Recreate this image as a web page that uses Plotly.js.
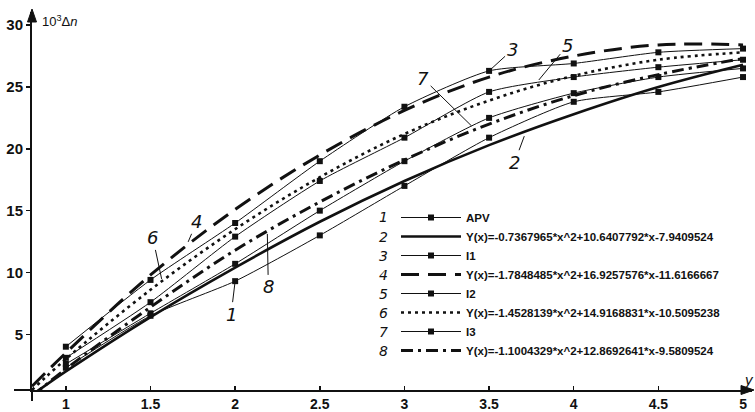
<!DOCTYPE html>
<html><head><meta charset="utf-8">
<script src="https://cdn.plot.ly/plotly-3.0.1.min.js"></script>
<style>html,body{margin:0;padding:0;background:#fff}</style>
</head><body><div id="chart" style="width:755px;height:412px"></div>
<script>
// ---- data ----
const xData = [1, 1.5, 2, 2.5, 3, 3.5, 4, 4.5, 5];
const apv = [2.3, 6.5, 9.3, 13.0, 17.0, 20.9, 23.8, 24.6, 25.8];
const i1  = [4.0, 9.4, 14.0, 19.0, 23.4, 26.3, 26.9, 27.8, 28.1];
const i2  = [3.1, 7.6, 12.9, 17.4, 20.9, 24.6, 25.8, 26.6, 27.2];
const i3  = [2.6, 6.7, 10.7, 15.0, 19.0, 22.5, 24.5, 25.8, 26.5];

const xFit   = [0.8, 1, 1.5, 2, 2.5, 3, 3.5, 4, 4.5, 5];
const fitApv = [0.1, 2.0, 6.4, 10.4, 14.1, 17.4, 20.3, 22.8, 25.0, 26.8];
const fitI1  = [0.8, 3.5, 9.8, 15.1, 19.5, 23.1, 25.8, 27.5, 28.4, 28.4];
const fitI2  = [0.5, 3.0, 8.6, 13.5, 17.7, 21.2, 23.9, 25.9, 27.2, 27.8];
const fitI3  = [0.0, 2.2, 7.2, 11.8, 15.7, 19.1, 22.0, 24.3, 26.0, 27.3];

const seriesNames = [
  "APV",
  "Y(x)=-0.7367965*x^2+10.6407792*x-7.9409524",
  "I1",
  "Y(x)=-1.7848485*x^2+16.9257576*x-11.6166667",
  "I2",
  "Y(x)=-1.4528139*x^2+14.9168831*x-10.5095238",
  "I3",
  "Y(x)=-1.1004329*x^2+12.8692641*x-9.5809524"
];
const curveNumbers = ["1","2","3","4","5","6","7","8"];
const xTicks = [1, 1.5, 2, 2.5, 3, 3.5, 4, 4.5, 5];
const xTickText = ["1", "1.5", "2", "2.5", "3", "3.5", "4", "4.5", "5"];
const yTicks = [5, 10, 15, 20, 25, 30];
const yTickText = ["5", "10", "15", "20", "25", "30"];

// ---- traces ----
const ink = "#111";
function dataTrace(y, name) {
  return {x: xData, y: y, name: name, type: "scatter", mode: "lines+markers",
    line: {color: ink, width: 1, shape: "spline", smoothing: 0.6},
    marker: {symbol: "square", size: 6, color: ink}};
}
function fitTrace(y, name, width, dash) {
  return {x: xFit, y: y, name: name, type: "scatter", mode: "lines",
    line: {color: ink, width: width, dash: dash, shape: "spline", smoothing: 1}};
}
const traces = [
  dataTrace(apv, seriesNames[0]),
  fitTrace(fitApv, seriesNames[1], 2.6, "solid"),
  dataTrace(i1, seriesNames[2]),
  fitTrace(fitI1, seriesNames[3], 3, "18px,9px"),
  dataTrace(i2, seriesNames[4]),
  fitTrace(fitI2, seriesNames[5], 2.6, "3px,4px"),
  dataTrace(i3, seriesNames[6]),
  fitTrace(fitI3, seriesNames[7], 3, "12px,5px,3px,5px")
];

// ---- layout ----
const W = 755, H = 412;
const M = {l: 32, r: 3, t: 12, b: 22};
const plotW = W - M.l - M.r, plotH = H - M.t - M.b;
const xRange = [0.8, 5.053];
const yRange = [0.5, 31.06];
const px2paperX = p => (p - M.l) / plotW;
const py2paperY = p => 1 - (p - M.t) / plotH;

const legTopPx = 203;
const legLeftPx = 396;
const rowH = 19;

const numFont = {family: "DejaVu Sans", size: 18, color: ink, style: "italic"};
// labels pointing at curves: [x, y, ax, ay]
const callouts = [
  [2.0, 9.3, -4, 33],
  [3.71, 21.1, -10, 27],
  [3.5, 26.3, 23, -21],
  [1.72, 12.4, 9, -21],
  [3.79, 25.5, 29, -35],
  [1.567, 9.4, -9, -42],
  [3.40, 21.8, -49, -48],
  [2.19, 13.2, 1, 54]
];
const annotations = callouts.map((c, i) => ({
  x: c[0], y: c[1], xref: "x", yref: "y", ax: c[2], ay: c[3],
  text: curveNumbers[i], showarrow: true, arrowhead: 0, arrowwidth: 1,
  arrowcolor: ink, standoff: 1, font: numFont
}));
// numbers in front of the legend rows
curveNumbers.forEach((n, i) => {
  annotations.push({xref: "paper", yref: "paper", x: px2paperX(legLeftPx - 6),
    y: py2paperY(legTopPx + 14.5 + rowH * i), xanchor: "right", yanchor: "middle",
    text: n, showarrow: false, font: {family: "DejaVu Sans", size: 14, color: ink, style: "italic"}});
});
// axis titles
annotations.push({xref: "paper", yref: "paper", x: px2paperX(40), y: py2paperY(21),
  xanchor: "left", yanchor: "middle", showarrow: false,
  text: "10<sup>3</sup>Δ<i>n</i>", font: {family: "Liberation Sans, Arial", size: 13, color: ink}});
annotations.push({xref: "paper", yref: "paper", x: px2paperX(749), y: py2paperY(379),
  xanchor: "center", yanchor: "middle", showarrow: false,
  text: "<i>y</i>", font: {family: "Liberation Sans, Arial", size: 15, color: ink}});

// axis arrowheads (decoration, in paper coordinates)
const X = px2paperX, Y = py2paperY;
const upArrow = `M ${X(32)} ${Y(9)} L ${X(27.5)} ${Y(22)} L ${X(36.5)} ${Y(22)} Z`;
const rightArrow = `M ${X(754)} ${Y(390)} L ${X(741)} ${Y(385.5)} L ${X(741)} ${Y(394.5)} Z`;

const tickFont = {family: "Liberation Sans, Arial", size: 15, color: ink, weight: "bold"};
const layout = {
  width: W, height: H, autosize: false, margin: M,
  paper_bgcolor: "#fff", plot_bgcolor: "#fff",
  showlegend: true,
  legend: {x: px2paperX(legLeftPx), y: py2paperY(legTopPx), xanchor: "left", yanchor: "top",
    bgcolor: "rgba(0,0,0,0)", borderwidth: 0, itemwidth: 60, tracegroupgap: 0,
    font: {family: "Liberation Sans, Arial", size: 11.5, color: ink, weight: "bold"}},
  xaxis: {range: xRange, showgrid: false, zeroline: false, showline: true, linewidth: 2,
    linecolor: ink, ticks: "inside", ticklen: 4, tickwidth: 1.5, tickcolor: ink,
    tickvals: xTicks, ticktext: xTickText,
    tickfont: {family: "Liberation Sans, Arial", size: 14, color: ink, weight: "bold"},
    fixedrange: true},
  yaxis: {range: yRange, showgrid: false, zeroline: false, showline: true, linewidth: 2,
    linecolor: ink, ticks: "outside", ticklen: 4, tickwidth: 1.5, tickcolor: ink,
    tickvals: yTicks, ticktext: yTickText, tickfont: tickFont, fixedrange: true},
  shapes: [
    {type: "line", xref: "paper", yref: "paper", x0: px2paperX(14), x1: 0, y0: 0, y1: 0,
     line: {color: ink, width: 2}},
    {type: "line", xref: "paper", yref: "paper", x0: 0, x1: 0, y0: py2paperY(401), y1: 0,
     line: {color: ink, width: 2}},
    {type: "path", xref: "paper", yref: "paper", path: upArrow, fillcolor: ink, line: {color: ink, width: 1}},
    {type: "path", xref: "paper", yref: "paper", path: rightArrow, fillcolor: ink, line: {color: ink, width: 1}}
  ],
  annotations: annotations
};
Plotly.newPlot("chart", traces, layout, {displayModeBar: false, staticPlot: true});
</script></body></html>
